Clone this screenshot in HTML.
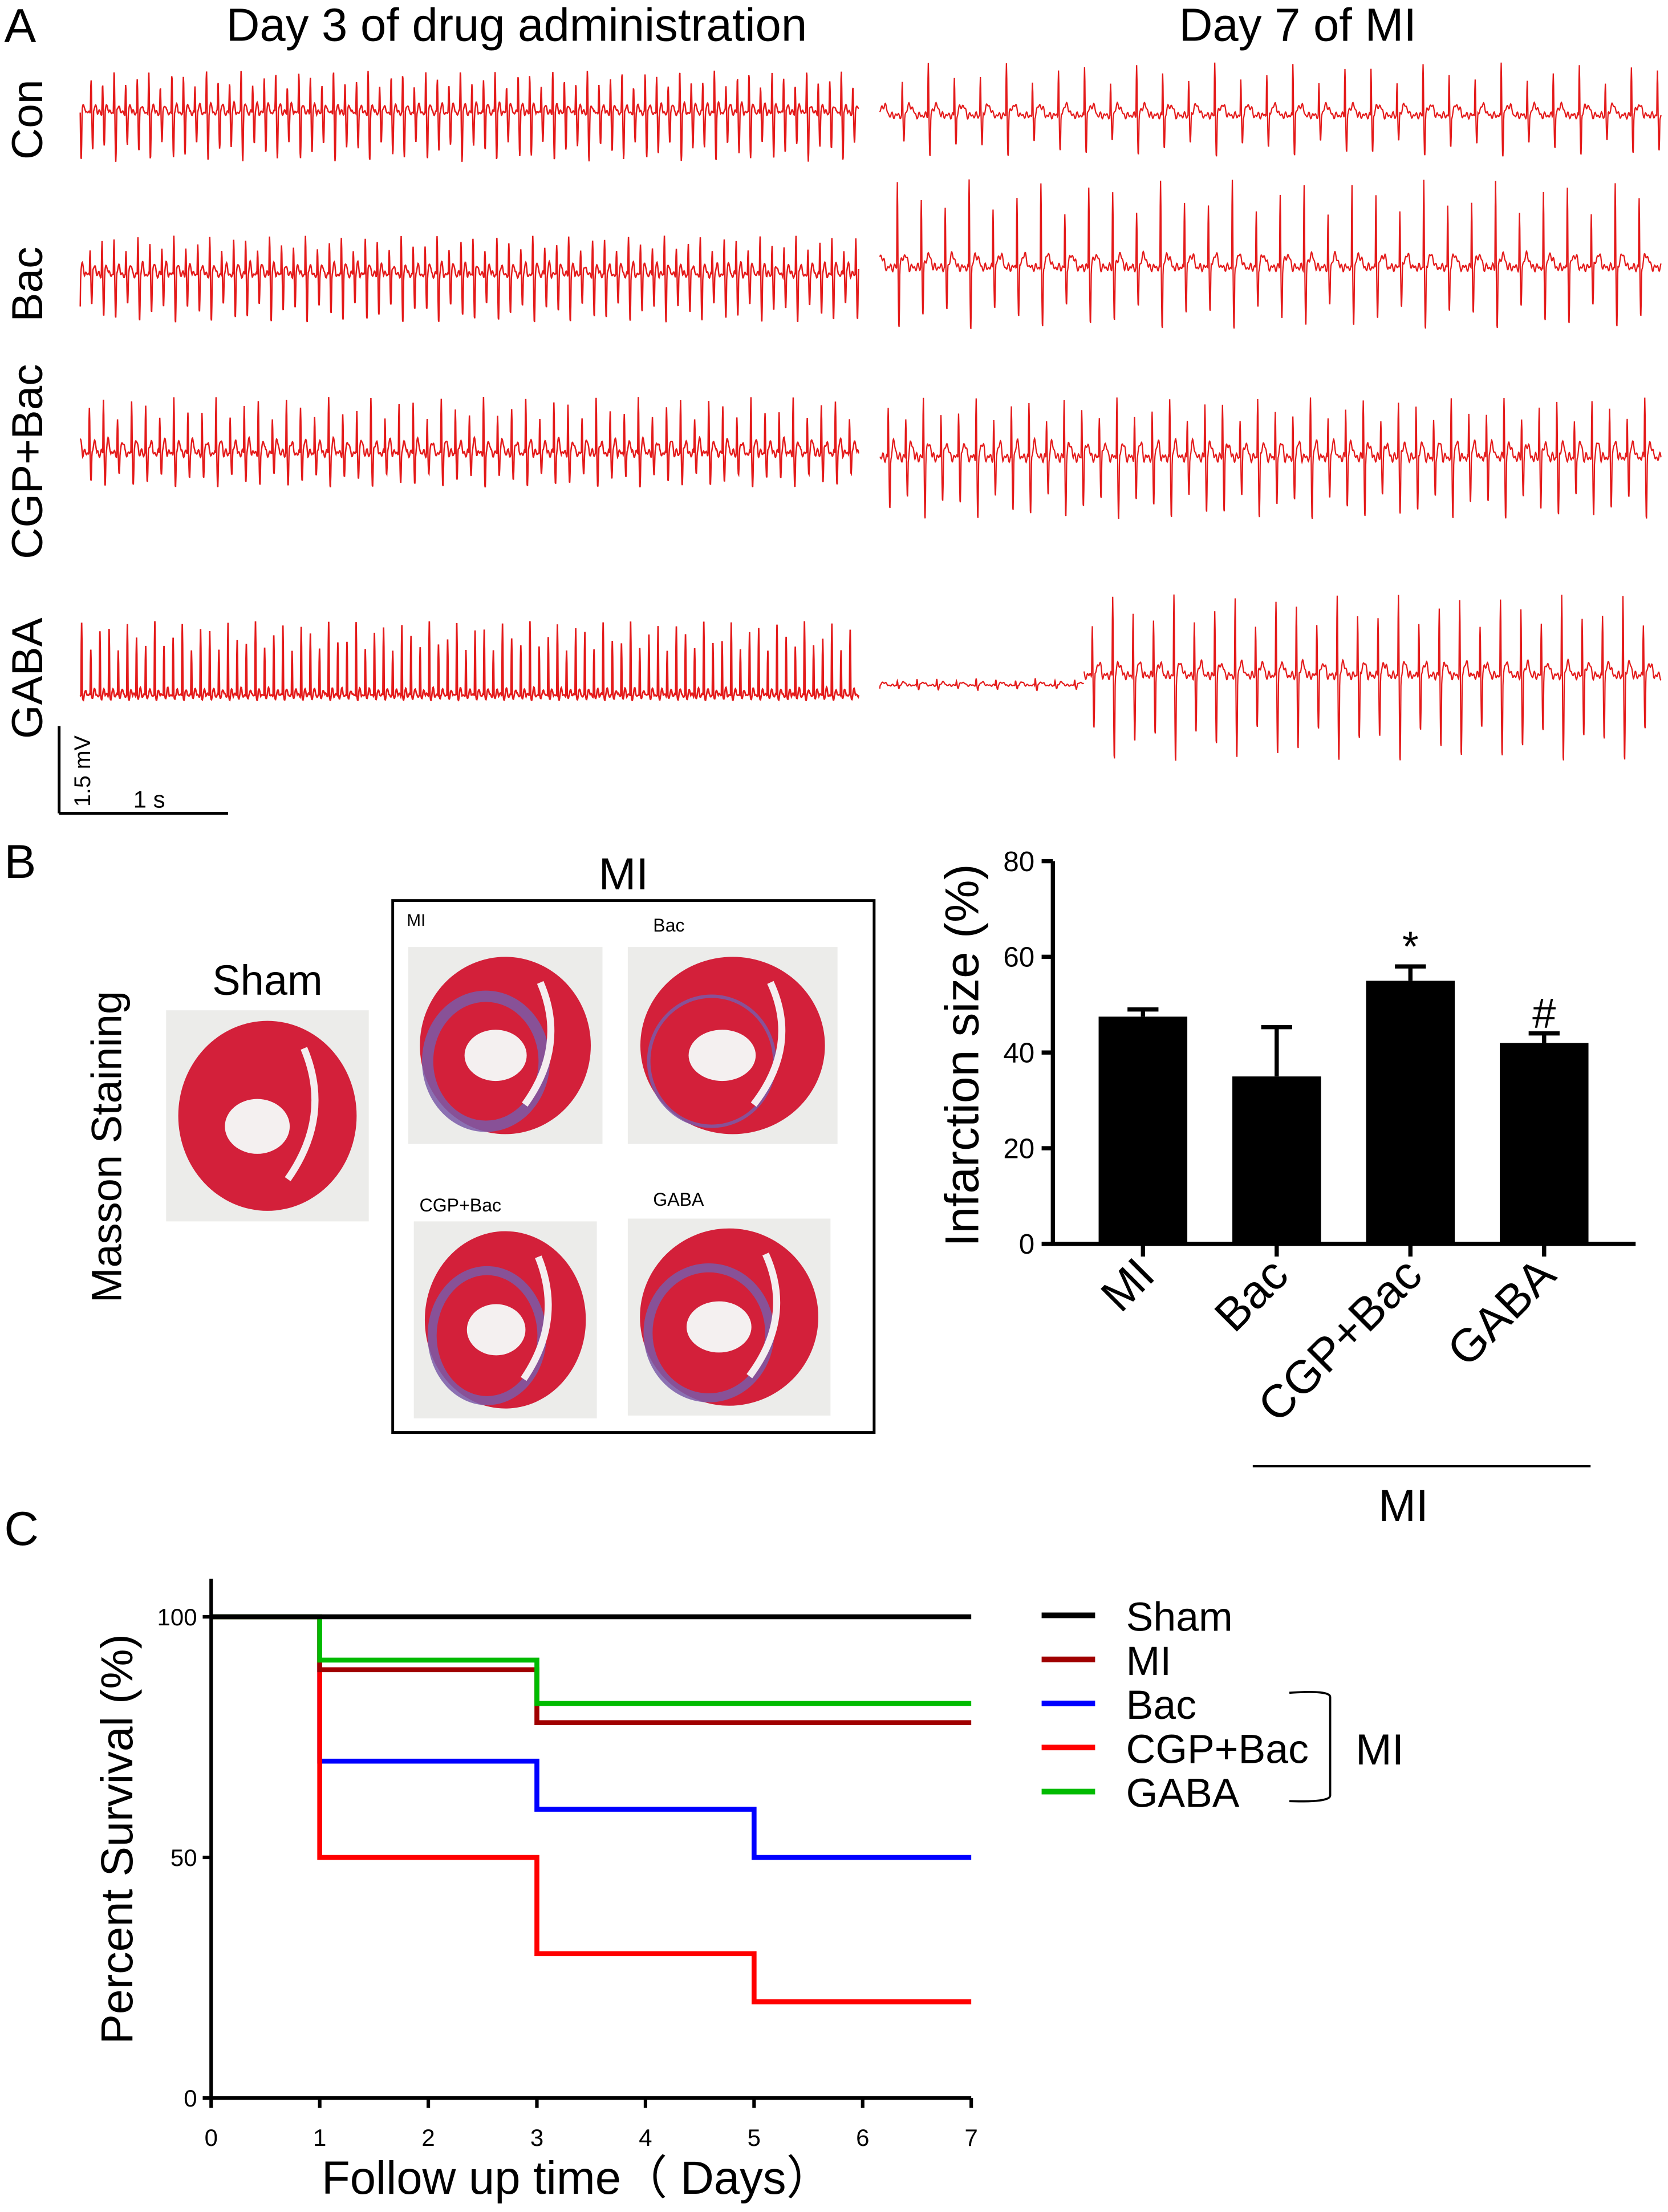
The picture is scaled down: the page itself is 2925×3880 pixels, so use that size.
<!DOCTYPE html>
<html><head><meta charset="utf-8"><style>
html,body{margin:0;padding:0;background:#fff}
svg{display:block}
text{font-family:"Liberation Sans",Arial,sans-serif}
</style></head><body>
<svg id="fig" width="2925" height="3880" viewBox="0 0 1185 1572" preserveAspectRatio="none" xmlns="http://www.w3.org/2000/svg">
<rect width="1185" height="1572" fill="#fff"/>
<g id="panelA">
<text x="3" y="30" font-size="34">A</text>
<text x="367" y="29" font-size="33" text-anchor="middle">Day 3 of drug administration</text>
<text x="922" y="29" font-size="33" text-anchor="middle">Day 7 of MI</text>
<text transform="translate(30,85) rotate(-90)" font-size="31" text-anchor="middle">Con</text>
<text transform="translate(30,202) rotate(-90)" font-size="31" text-anchor="middle">Bac</text>
<text transform="translate(30,328) rotate(-90)" font-size="31" text-anchor="middle">CGP+Bac</text>
<text transform="translate(30,482) rotate(-90)" font-size="31" text-anchor="middle">GABA</text>
<g>
<line x1="42" y1="516" x2="42" y2="578" stroke="#000" stroke-width="2"/>
<line x1="42" y1="578" x2="162" y2="578" stroke="#000" stroke-width="2"/>
<text transform="translate(64,548) rotate(-90)" font-size="16" text-anchor="middle">1.5 mV</text>
<text x="106" y="574" font-size="17" text-anchor="middle">1 s</text>
</g>
<g id="ecg"></g>
</g>
<g>
<text x="3" y="624" font-size="34">B</text>
<text transform="translate(86,815) rotate(-90)" font-size="30" text-anchor="middle">Masson Staining</text>
<text x="190" y="707" font-size="30" text-anchor="middle">Sham</text>
<text x="443" y="632" font-size="32" text-anchor="middle">MI</text>
<rect x="279" y="640" width="342" height="378" fill="none" stroke="#000" stroke-width="2"/>
<g id="hearts"></g>
<text x="289" y="658" font-size="12">MI</text>
<text x="464" y="662" font-size="13">Bac</text>
<text x="298" y="861" font-size="13">CGP+Bac</text>
<text x="464" y="857" font-size="13">GABA</text>
<g id="bars"></g>
</g>
<g>
<text x="3" y="1098" font-size="34">C</text>
<g id="surv"></g>
</g>
</svg>
<script>
// ---- bar chart data ----
const barCats = ["MI","Bac","CGP+Bac","GABA"];
const barVals = [47.5,35,55,42];
const barErr = [1.5,10.3,3,2];
const barMarks = ["","","*","#"];
const barTicks = [0,20,40,60,80];
// ---- survival data ----
const survNames = ["Sham","MI","Bac","CGP+Bac","GABA"];
const survColors = ["#000","#a00000","#0000ff","#ff0000","#00bb00"];
const survDays = [0,1,3,5,7];
const survSham = [100,100,100,100,100];
const survMI = [100,89,78,78,78];
const survBac = [100,70,60,50,50];
const survCGP = [100,50,30,20,20];
const survGABA = [100,91,82,82,82];
const survXTicks = [0,1,2,3,4,5,6,7];
const survYTicks = [0,50,100];

const NS="http://www.w3.org/2000/svg";
function mk(tag,attrs,parent){const e=document.createElementNS(NS,tag);for(const k in attrs)e.setAttribute(k,attrs[k]);parent.appendChild(e);return e;}

(function(){
 const g=document.getElementById('bars');
 const x0=748,xEnd=1162,yB=884,yT=612;
 const y=v=>yB-(v/80)*(yB-yT);
 const centers=[812,907,1002,1097], bw=63;
 const ax=mk('path',{d:`M${x0},${yT} V${yB} H${xEnd}`,fill:'none',stroke:'#000','stroke-width':3},g);
 
 
 barTicks.forEach(t=>{
  mk('line',{x1:x0-8,x2:x0,y1:y(t),y2:y(t),stroke:'#000','stroke-width':3},g);
  const tx=mk('text',{x:x0-13,y:y(t)+7,'font-size':20,'text-anchor':'end'},g);tx.textContent=t;
  
  
 });
 const yl=mk('text',{transform:`translate(695,${(yB+yT)/2+2}) rotate(-90)`,'font-size':34,'text-anchor':'middle'},g);
 yl.textContent='Infarction size (%)';
 
 
 barCats.forEach((c,i)=>{
  const cx=centers[i];
  const top=y(barVals[i]+barErr[i]);
  mk('line',{x1:cx,x2:cx,y1:y(barVals[i]),y2:top,stroke:'#000','stroke-width':3},g);
  mk('line',{x1:cx-11,x2:cx+11,y1:top,y2:top,stroke:'#000','stroke-width':3},g);
  const r=mk('rect',{x:cx-bw/2,y:y(barVals[i]),width:bw,height:yB-y(barVals[i]),fill:'#000'},g);
  
  
  mk('line',{x1:cx,x2:cx,y1:yB,y2:yB+9,stroke:'#000','stroke-width':3},g);
  const t=mk('text',{transform:`translate(${cx+10},${yB+24}) rotate(-45)`,'font-size':33,'text-anchor':'end'},g);
  t.textContent=c;
  
  
  if(barMarks[i]){const m=mk('text',{x:cx,y:top-4,'font-size':30,'text-anchor':'middle'},g);m.textContent=barMarks[i];
   
   }
 });
 mk('line',{x1:890,x2:1130,y1:1042,y2:1042,stroke:'#000','stroke-width':1.5},g);
 const mi=mk('text',{x:997,y:1081,'font-size':32,'text-anchor':'middle'},g);mi.textContent='MI';
 
 
})();

(function(){
 const g=document.getElementById('surv');
 const x=d=>150+d*(540/7), y=v=>1491-v*3.42;
 const series=[survSham,survMI,survBac,survCGP,survGABA];
 [2,3,1,4,0].forEach(si=>{
  const v=series[si];let d=`M${x(survDays[0])},${y(v[0])}`;
  for(let i=1;i<survDays.length;i++){d+=` H${x(survDays[i])} V${y(v[i])}`;}
  const p=mk('path',{d,fill:'none',stroke:survColors[si],'stroke-width':3.5},g);
  
  
 });
 const ax=mk('path',{d:`M150,1122 V1491 H${x(7)}`,fill:'none',stroke:'#000','stroke-width':2.5},g);
 
 
 survYTicks.forEach(t=>{
  mk('line',{x1:144,x2:150,y1:y(t),y2:y(t),stroke:'#000','stroke-width':2.5},g);
  const tx=mk('text',{x:140,y:y(t)+6,'font-size':17,'text-anchor':'end'},g);tx.textContent=t;
  
  
 });
 survXTicks.forEach(t=>{
  mk('line',{x1:x(t),x2:x(t),y1:1491,y2:1498,stroke:'#000','stroke-width':2.5},g);
  const tx=mk('text',{x:x(t),y:1525,'font-size':17,'text-anchor':'middle'},g);tx.textContent=t;
  
  
 });
 const yl=mk('text',{transform:'translate(94,1307) rotate(-90)','font-size':32,'text-anchor':'middle'},g);
 yl.textContent='Percent Survival (%)';
 
 
 const xl=mk('text',{x:410,y:1559,'font-size':33,'text-anchor':'middle'},g);
 xl.textContent='Follow up time（ Days）';
 
 
 survNames.forEach((n,i)=>{
  const ly=1148+i*31.3;
  const l=mk('line',{x1:740,x2:778,y1:ly,y2:ly,stroke:survColors[i],'stroke-width':4},g);
  
  
  const t=mk('text',{x:800,y:ly+11,'font-size':29},g);t.textContent=n;
  
  
 });
 mk('path',{d:'M916,1203 Q945,1201 945,1206 V1276 Q945,1281 916,1280',fill:'none',stroke:'#000','stroke-width':1.5},g);
 const mi=mk('text',{x:963,y:1254,'font-size':31},g);mi.textContent='MI';
 
 
})();

// ECG traces (decorative signal)
(function(){
 const g=document.getElementById('ecg');
 function trace(x0,x1,yc,period,up,down,noise,seed,w){
  let d='';
  const uw=1.0, dw=1.3;
  for(let x=x0;x<=x1;x+=0.25){
   const p=(x-x0+seed)%period;
   const k=Math.floor((x-x0+seed)/period);
   const var1=1+0.25*Math.sin(k*2.3+seed);
   let v;
   if(p<uw)v=-up*var1*Math.sin(p/uw*Math.PI);
   else if(p<uw+dw)v=down*var1*Math.sin((p-uw)/dw*Math.PI);
   else {const t=(p-uw-dw)/(period-uw-dw);
     v=(t<0.45?-noise*1.4*Math.sin(t/0.45*Math.PI):0)+noise*0.5*Math.sin(x*2.1+seed)*Math.cos(x*0.53);}
   d+=(d?'L':'M')+x.toFixed(2)+','+(yc+v).toFixed(1);
  }
  const p=mk('path',{d,fill:'none',stroke:'#e41a1a','stroke-width':w||0.9},g);
  
  
 }
 trace(57,610,80,8.2,24,28,4,1,1.0);
 trace(625,1180,82,18.5,30,24,5,3);
 trace(57,610,195,8.5,22,28,5,2,1.0);
 trace(625,1180,190,17,50,36,6,5);
 trace(57,610,322,10,32,20,6,4,1.0);
 trace(625,1180,325,12.5,34,36,7,7);
 trace(57,610,494,6.5,42,3,3,6,1.1);
 trace(625,770,487,14,4,3,1.5,2);
 trace(770,1180,480,14.5,46,50,6,9);
})();

(function(){
 const g=document.getElementById('hearts');
 const imgs=[
  {x:118,y:718,w:144,h:150,blue:0,name:'sham'},
  {x:290,y:673,w:138,h:140,blue:1,name:'mi'},
  {x:446,y:673,w:149,h:140,blue:0.3,name:'bac'},
  {x:294,y:868,w:130,h:140,blue:0.8,name:'cgp-bac'},
  {x:446,y:866,w:144,h:140,blue:0.8,name:'gaba'}];
 imgs.forEach(im=>{
  const gg=mk('g',{},g);
  
  
  mk('rect',{x:im.x,y:im.y,width:im.w,height:im.h,fill:'#ececea'},gg);
  const cx=im.x+im.w/2,cy=im.y+im.h/2;
  mk('ellipse',{cx,cy,rx:im.w*0.44,ry:im.h*0.45,fill:'#d3203a'},gg);
  if(im.blue)mk('ellipse',{cx:cx-im.w*0.1,cy:cy+im.h*0.08,rx:im.w*0.3,ry:im.h*0.33,fill:'none',stroke:'#7a5aa8','stroke-width':8*im.blue,opacity:0.85},gg);
  mk('ellipse',{cx:cx-im.w*0.05,cy:cy+im.h*0.05,rx:im.w*0.16,ry:im.h*0.13,fill:'#f4f0f0'},gg);
  mk('path',{d:`M${cx+im.w*0.18},${cy-im.h*0.32} Q${cx+im.w*0.32},${cy} ${cx+im.w*0.1},${cy+im.h*0.3}`,fill:'none',stroke:'#f4eef0','stroke-width':5},gg);
 });
})();
</script>
</body></html>
